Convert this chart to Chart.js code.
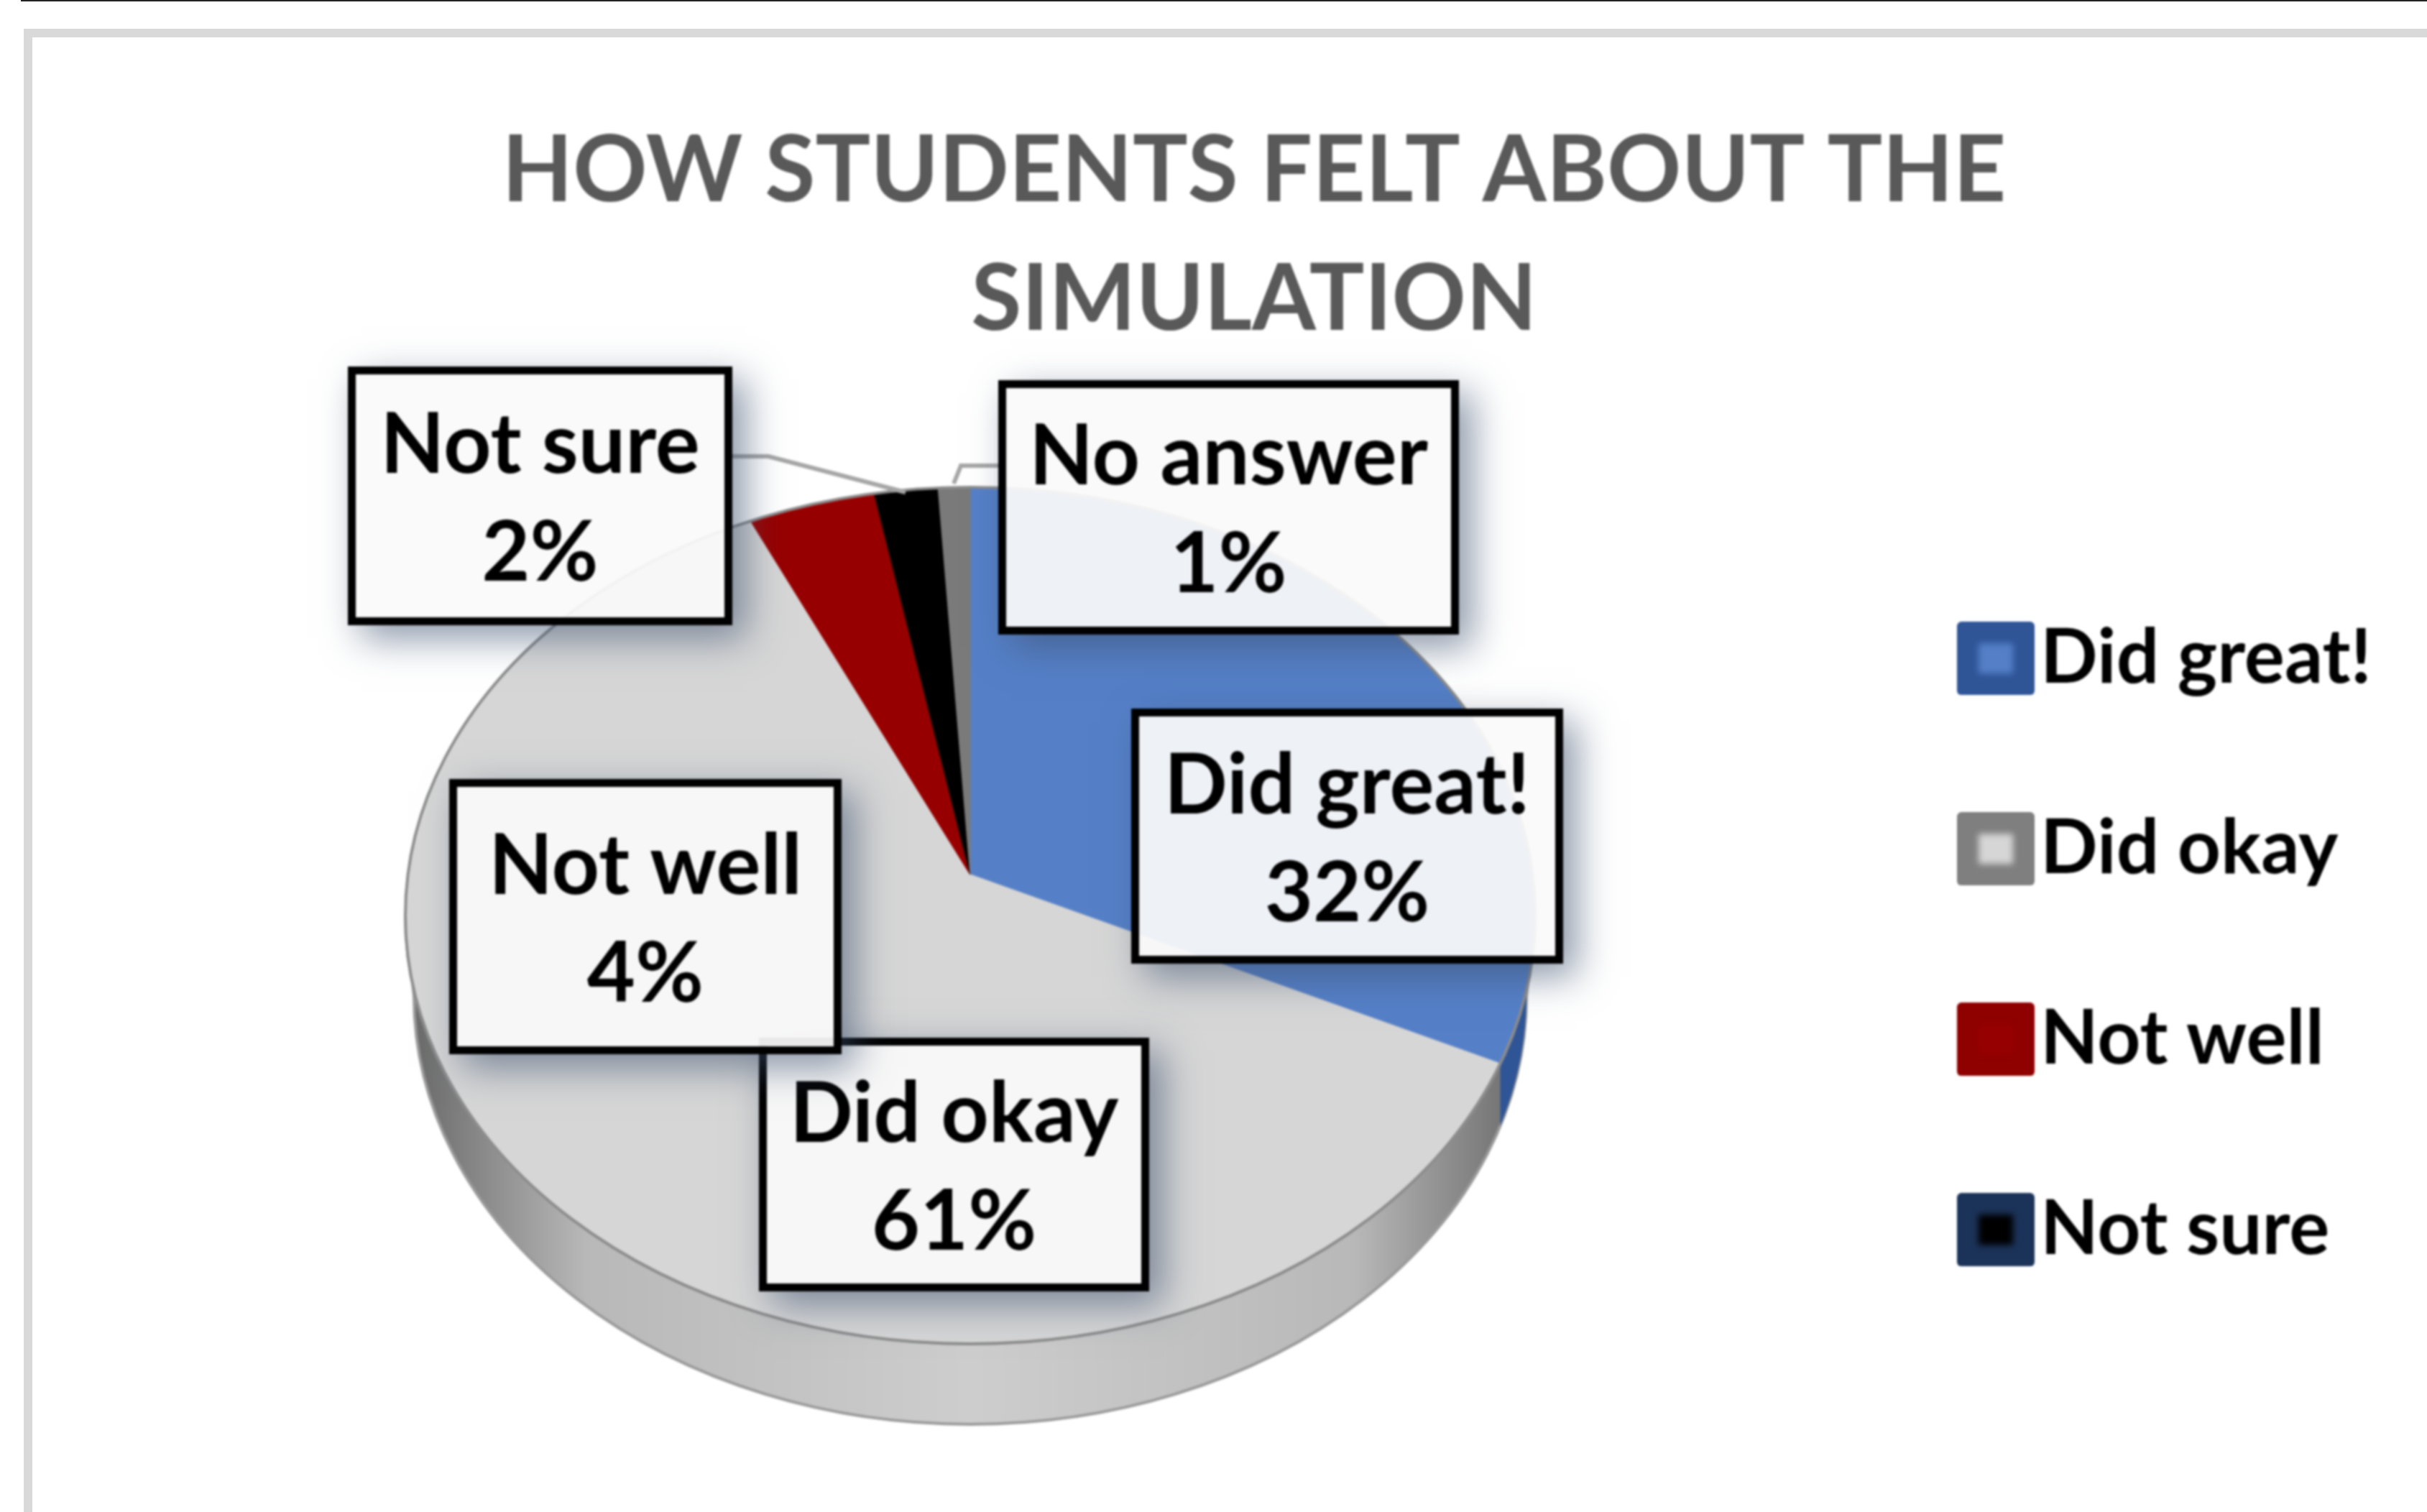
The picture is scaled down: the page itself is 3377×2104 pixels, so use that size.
<!DOCTYPE html>
<html>
<head>
<meta charset="utf-8">
<script src="https://cdn.jsdelivr.net/npm/chart.js@4"></script>
<style>
  html, body { margin: 0; background: #fff; overflow: hidden; width: 3377px; height: 2104px; }
  #rule { position: absolute; left: 29px; right: 0; top: 0; height: 2px; background: #222; }
  #frame { position: absolute; left: 33px; top: 40px; width: 3500px; height: 2200px; box-sizing: border-box; border: 12px solid #d9d9d9; }
  canvas { position: absolute; left: 0; top: 0; filter: blur(1.8px); }
</style>
</head>
<body>
<div id="rule"></div>
<div id="frame"></div>
<canvas id="chart" width="3490" height="2104"></canvas>
<script>
const titleLines = ['HOW STUDENTS FELT ABOUT THE', 'SIMULATION'];
const categories = ['Did great!', 'Did okay', 'Not well', 'Not sure', 'No answer'];
const shares = [32, 61, 4, 2, 1];
const sliceColors = ['#5580c8', '#d6d6d6', '#970000', '#000000', '#7a7a7a'];
const swatchEdges = ['#2f5597', '#7f7f7f', '#8f0000', '#1c3359', '#555555'];
const notInLegend = ['No answer'];

// pie is squashed and its point sits above the middle of the rim, like the office 3d pie
const pie = { apexX: 1350, apexY: 1217, rimX: 1350, rimY: 1274, rx: 786, ry: 596, depth: 112, floorRx: 774, tilt: 0.758 };
const font = 'Lato, sans-serif';

const boxes = {
  'Did okay':   [1056, 1444, 1599, 1797],
  'Did great!': [1574, 986, 2175, 1341],
  'Not well':   [625, 1084, 1171, 1467],
  'Not sure':   [484, 510, 1019, 870],
  'No answer':  [1389, 529, 2030, 883]
};
const leaders = [
  [[1019, 635], [1069, 635], [1260, 685]],
  [[1389, 648], [1337, 648], [1327, 673]]
];

const chartWidth = 3490, chartHeight = 2104;

function swatch(edge, inner) {
  const c = document.createElement('canvas');
  c.width = 108; c.height = 102;
  const g = c.getContext('2d');
  g.fillStyle = edge;
  g.beginPath(); g.roundRect(0, 0, 108, 102, 6); g.fill();
  g.filter = 'blur(4px)';
  g.fillStyle = inner;
  g.fillRect(30, 30, 48, 42);
  return c;
}

function rimPath(ctx) {
  ctx.beginPath();
  ctx.ellipse(pie.rimX, pie.rimY, pie.rx, pie.ry, 0, 0, Math.PI * 2);
}

// where the ray from the apex at a chart.js arc angle hits the rim
function rimPoint(angle) {
  const dx = Math.cos(angle), dy = Math.sin(angle) * pie.tilt;
  const oy = pie.apexY - pie.rimY;
  const a = (dx * dx) / (pie.rx * pie.rx) + (dy * dy) / (pie.ry * pie.ry);
  const b = 2 * oy * dy / (pie.ry * pie.ry);
  const c = oy * oy / (pie.ry * pie.ry) - 1;
  const t = (-b + Math.sqrt(b * b - 4 * a * c)) / (2 * a);
  return { x: pie.apexX + dx * t, y: pie.apexY + dy * t };
}

function drawBox(ctx, name) {
  const [x0, y0, x1, y1] = boxes[name];
  const w = x1 - x0, h = y1 - y0, b = 11;

  // shadow only outside the box, the fill is see-through
  ctx.save();
  ctx.beginPath();
  ctx.rect(0, 0, chartWidth, chartHeight);
  ctx.rect(x0, y0, w, h);
  ctx.clip('evenodd');
  ctx.shadowColor = 'rgba(60,80,110,0.6)';
  ctx.shadowBlur = 50;
  ctx.shadowOffsetX = 18;
  ctx.shadowOffsetY = 18;
  ctx.fillStyle = '#000';
  ctx.fillRect(x0, y0, w, h);
  ctx.restore();

  ctx.fillStyle = 'rgba(250,250,250,0.93)';
  ctx.fillRect(x0, y0, w, h);
  ctx.strokeStyle = '#000';
  ctx.lineWidth = b;
  ctx.strokeRect(x0 + b / 2, y0 + b / 2, w - b, h - b);

  const cx = (x0 + x1) / 2, cy = (y0 + y1) / 2;
  ctx.fillStyle = '#000';
  ctx.font = 'bold 116px ' + font;
  ctx.textAlign = 'center';
  ctx.textBaseline = 'alphabetic';
  ctx.fillText(name, cx, cy - 32);
  ctx.fillText(shares[categories.indexOf(name)] + '%', cx, cy + 118);
}

const tiltPlugin = {
  id: 'tilt',
  beforeDatasetsDraw(chart) {
    const ctx = chart.ctx;
    const arc = chart.getDatasetMeta(0).data[0];

    // side wall first, top face goes over it
    ctx.save();
    ctx.beginPath();
    ctx.ellipse(pie.rimX, pie.rimY + pie.depth, pie.floorRx, pie.ry, 0, 0, Math.PI);
    ctx.lineTo(pie.rimX - pie.rx, pie.rimY);
    ctx.ellipse(pie.rimX, pie.rimY, pie.rx, pie.ry, 0, Math.PI, 0, true);
    ctx.closePath();
    const wall = ctx.createLinearGradient(pie.rimX - pie.rx, 0, pie.rimX + pie.rx, 0);
    wall.addColorStop(0, '#666666');
    wall.addColorStop(0.05, '#808080');
    wall.addColorStop(0.16, '#b8b8b8');
    wall.addColorStop(0.5, '#cdcdcd');
    wall.addColorStop(0.84, '#b8b8b8');
    wall.addColorStop(0.95, '#808080');
    wall.addColorStop(1, '#666666');
    ctx.fillStyle = wall;
    ctx.fill();
    ctx.strokeStyle = '#9a9a9a';
    ctx.lineWidth = 4;
    ctx.stroke();
    ctx.clip();
    const end = rimPoint(arc.endAngle);
    ctx.fillStyle = swatchEdges[0];
    ctx.fillRect(end.x, pie.rimY, pie.rx, pie.ry);
    ctx.restore();

    ctx.save();
    rimPath(ctx);
    ctx.clip();
    const k = 1100 / arc.outerRadius;
    ctx.translate(pie.apexX, pie.apexY);
    ctx.scale(k, k * pie.tilt);
    ctx.translate(-arc.x, -arc.y);
  },
  afterDatasetsDraw(chart) {
    const ctx = chart.ctx;
    ctx.restore();

    rimPath(ctx);
    ctx.strokeStyle = '#8c8c8c';
    ctx.lineWidth = 4;
    ctx.stroke();

    ctx.strokeStyle = '#a6a6a6';
    ctx.lineWidth = 6;
    leaders.forEach(pts => {
      ctx.beginPath();
      pts.forEach((p, i) => i ? ctx.lineTo(p[0], p[1]) : ctx.moveTo(p[0], p[1]));
      ctx.stroke();
    });

    Object.keys(boxes).forEach(name => drawBox(ctx, name));
  }
};

new Chart(document.getElementById('chart'), {
  type: 'pie',
  data: {
    labels: categories,
    datasets: [{
      data: shares,
      backgroundColor: sliceColors,
      borderColor: sliceColors,
      borderWidth: 1,
      clip: false
    }]
  },
  options: {
    responsive: false,
    devicePixelRatio: 1,
    animation: false,
    // same left and right so the title stays on the middle of the canvas
    layout: { padding: { left: 180, right: 180, bottom: 4 } },
    plugins: {
      tooltip: { enabled: false },
      title: {
        display: true,
        text: titleLines,
        color: '#595959',
        font: { family: font, size: 128, weight: 'bold', lineHeight: 1.4 },
        padding: { top: 149, bottom: 20 }
      },
      legend: {
        position: 'right',
        align: 'center',
        fullSize: false,
        labels: {
          usePointStyle: true,
          pointStyleWidth: 19,
          padding: 160,
          color: '#000',
          font: { family: font, size: 105, weight: 'bold' },
          filter: item => !notInLegend.includes(item.text),
          generateLabels(chart) {
            return Chart.overrides.pie.plugins.legend.labels.generateLabels(chart).map((item, i) => {
              item.pointStyle = swatch(swatchEdges[i], sliceColors[i]);
              return item;
            });
          }
        }
      }
    }
  },
  plugins: [tiltPlugin]
});
</script>
</body>
</html>
